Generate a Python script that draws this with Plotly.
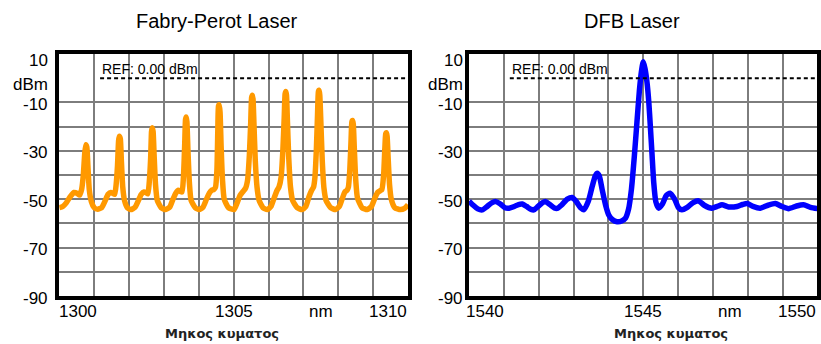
import plotly.graph_objects as go

# ---------------- data ----------------
fp_titles = "Fabry-Perot Laser"
dfb_title = "DFB Laser"
x_label = "Μηκος κυματος"
ref_label = "REF: 0.00 dBm"
y_tick_vals = [10, 0, -10, -30, -50, -70, -90]
y_tick_text = ["10", "dBm", "-10", "-30", "-50", "-70", "-90"]
fp_x_ticks = [1300, 1305, 1310]
dfb_x_ticks = [1540, 1545, 1550]
unit_label = "nm"

fp_nm = [
    1300.00, 1300.10, 1300.20, 1300.32, 1300.42, 1300.52, 1300.58, 1300.64, 1300.69, 1300.73, 1300.76, 1300.79, 1300.82, 1300.86, 1300.92, 1301.00, 1301.10,
    1301.22, 1301.32, 1301.40, 1301.48, 1301.54, 1301.59, 1301.63, 1301.67, 1301.70, 1301.72, 1301.75, 1301.78, 1301.82, 1301.87, 1301.95, 1302.05,
    1302.17, 1302.27, 1302.35, 1302.43, 1302.49, 1302.54, 1302.58, 1302.62, 1302.645, 1302.665, 1302.69, 1302.72, 1302.76, 1302.81, 1302.92, 1303.05,
    1303.17, 1303.26, 1303.34, 1303.41, 1303.47, 1303.52, 1303.56, 1303.595, 1303.62, 1303.64, 1303.66, 1303.69, 1303.73, 1303.78, 1303.90, 1304.01,
    1304.12, 1304.22, 1304.30, 1304.37, 1304.43, 1304.48, 1304.52, 1304.545, 1304.565, 1304.585, 1304.61, 1304.64, 1304.68, 1304.73, 1304.85, 1305.01,
    1305.10, 1305.18, 1305.27, 1305.34, 1305.40, 1305.45, 1305.49, 1305.515, 1305.535, 1305.555, 1305.58, 1305.62, 1305.67, 1305.73, 1305.84, 1305.96,
    1306.07, 1306.16, 1306.24, 1306.30, 1306.36, 1306.41, 1306.45, 1306.475, 1306.495, 1306.515, 1306.54, 1306.58, 1306.63, 1306.69, 1306.82, 1306.96,
    1307.07, 1307.16, 1307.23, 1307.29, 1307.33, 1307.37, 1307.405, 1307.43, 1307.45, 1307.47, 1307.50, 1307.54, 1307.59, 1307.65, 1307.78, 1307.92,
    1308.03, 1308.12, 1308.19, 1308.25, 1308.29, 1308.33, 1308.365, 1308.39, 1308.41, 1308.43, 1308.46, 1308.50, 1308.55, 1308.68, 1308.83,
    1308.95, 1309.05, 1309.13, 1309.20, 1309.25, 1309.30, 1309.335, 1309.36, 1309.38, 1309.40, 1309.43, 1309.47, 1309.52, 1309.62, 1309.78, 1309.90, 1310.00,
]
fp_dbm = [
    -53.5, -53.0, -51.5, -48.8, -47.2, -47.6, -48.3, -46.0, -40.0, -31.0, -27.5, -28.5, -36.0, -46.0, -51.0, -53.5, -54.2,
    -53.4, -50.5, -48.0, -47.2, -47.6, -48.0, -44.0, -36.0, -26.0, -24.0, -25.0, -34.0, -45.0, -50.5, -53.5, -54.3,
    -53.4, -50.5, -48.0, -47.0, -47.3, -47.8, -43.0, -33.0, -22.0, -20.5, -22.0, -32.0, -44.0, -50.5, -53.5, -54.3,
    -53.2, -50.0, -47.5, -46.3, -46.8, -47.0, -41.0, -28.0, -17.0, -16.0, -18.0, -30.0, -43.0, -50.5, -53.5, -54.3,
    -53.3, -50.0, -47.5, -46.3, -46.0, -45.0, -38.0, -22.0, -11.5, -11.0, -14.0, -28.0, -42.0, -50.0, -53.5, -54.3,
    -51.5, -48.5, -46.8, -45.5, -42.0, -32.0, -18.0, -8.0, -7.0, -8.5, -18.0, -34.0, -45.0, -50.5, -53.5, -54.3,
    -53.0, -49.5, -46.5, -45.0, -41.0, -30.0, -16.0, -6.5, -5.5, -7.0, -17.0, -33.0, -45.0, -50.5, -53.5, -54.3,
    -53.0, -49.0, -46.5, -45.0, -41.0, -30.0, -15.0, -5.5, -5.0, -7.0, -18.0, -34.0, -45.5, -50.5, -53.5, -54.3,
    -53.0, -49.5, -47.0, -46.3, -45.0, -38.0, -26.0, -18.0, -17.5, -19.0, -29.0, -42.0, -49.5, -53.5, -54.3,
    -53.0, -49.5, -47.2, -46.5, -46.0, -40.0, -29.0, -23.0, -22.5, -24.0, -33.0, -44.0, -50.0, -53.5, -54.3, -53.8, -52.3,
]

dfb_nm = [
    1540.00, 1540.12, 1540.25, 1540.38, 1540.52, 1540.65, 1540.77, 1540.90, 1541.03, 1541.15,
    1541.30, 1541.42, 1541.53, 1541.65, 1541.78, 1541.86, 1541.98, 1542.10, 1542.20, 1542.32,
    1542.45, 1542.53, 1542.65, 1542.82, 1542.96, 1543.08, 1543.20, 1543.30, 1543.42, 1543.53,
    1543.62, 1543.68, 1543.74, 1543.82, 1543.92, 1544.01, 1544.12, 1544.25, 1544.38, 1544.49,
    1544.58, 1544.66, 1544.74, 1544.82, 1544.89, 1544.95, 1545.00, 1545.05, 1545.11, 1545.16,
    1545.20, 1545.25, 1545.30, 1545.36, 1545.44, 1545.55, 1545.66, 1545.77, 1545.90, 1546.01,
    1546.11, 1546.25, 1546.42, 1546.59, 1546.75, 1546.97, 1547.12, 1547.26, 1547.45, 1547.69,
    1547.85, 1547.98, 1548.15, 1548.36, 1548.58, 1548.79, 1548.98, 1549.17, 1549.40, 1549.60,
    1549.80, 1550.00,
]
dfb_dbm = [
    -50.8, -52.5, -54.0, -54.4, -53.0, -51.5, -51.0, -52.0, -53.5, -53.7,
    -53.0, -52.2, -52.0, -53.0, -54.2, -54.4, -53.0, -51.5, -51.0, -52.2,
    -53.6, -53.8, -52.5, -50.0, -49.3, -51.0, -53.5, -54.3, -51.0, -45.0,
    -40.5, -39.3, -40.5, -46.0, -52.5, -56.5, -58.5, -59.3, -59.0, -57.8,
    -54.0, -46.0, -33.0, -18.0, -5.0, 3.0, 6.8, 4.0, -2.0, -10.0,
    -19.0, -31.0, -43.0, -51.0, -53.7, -52.0, -48.5, -47.5, -50.0, -53.5,
    -54.4, -53.5, -51.5, -50.7, -52.5, -53.7, -53.0, -52.3, -53.2, -53.0,
    -52.2, -51.8, -53.0, -53.7, -52.5, -51.8, -53.0, -53.9, -52.8, -52.3,
    -53.4, -53.9,
]

fp_color = "#FF9900"
dfb_color = "#0000FF"
grid_color = "#7d7d7d"
text_font = "Liberation Sans, Arial, sans-serif"

# ---------------- figure ----------------
fig = go.Figure()
fig.add_trace(go.Scatter(x=fp_nm, y=fp_dbm, mode="lines", xaxis="x", yaxis="y",
                         line=dict(color=fp_color, width=5.5, shape="spline", smoothing=0.5),
                         showlegend=False, hoverinfo="skip"))
fig.add_trace(go.Scatter(x=dfb_nm, y=dfb_dbm, mode="lines", xaxis="x2", yaxis="y2",
                         line=dict(color=dfb_color, width=5.5, shape="spline", smoothing=0.6),
                         showlegend=False, hoverinfo="skip"))

grid_y = [-80, -70, -60, -50, -40, -30, -20, -10]

def xaxis_cfg(domain, x0, anchor):
    return dict(domain=domain, range=[x0, x0 + 10], anchor=anchor,
                tickmode="linear", tick0=x0, dtick=1, showticklabels=False, ticks="",
                showgrid=True, gridcolor=grid_color, gridwidth=1.5, zeroline=False,
                showline=True, linecolor="black", linewidth=3.5, mirror=True, fixedrange=True)

def yaxis_cfg(anchor):
    return dict(domain=[0, 1], range=[-90, 10], anchor=anchor,
                tickmode="array", tickvals=grid_y, showticklabels=False, ticks="",
                showgrid=True, gridcolor=grid_color, gridwidth=1.5, zeroline=False,
                showline=True, linecolor="black", linewidth=3.5, mirror=True, fixedrange=True)

fig.update_layout(
    width=821, height=344, autosize=False,
    margin=dict(l=0, r=0, t=54, b=48),
    paper_bgcolor="white", plot_bgcolor="white",
    xaxis=xaxis_cfg([0.0722, 0.4970], 1300, "y"),
    yaxis=yaxis_cfg("x"),
    xaxis2=xaxis_cfg([0.5713, 0.9957], 1540, "y2"),
    yaxis2=yaxis_cfg("x2"),
)

shapes = []
annotations = []
panels = [
    ("x", "y", 1300, fp_x_ticks, fp_titles, -9, -2.5, 4.52, 4.67),
    ("x2", "y2", 1540, dfb_x_ticks, dfb_title, -4, -5.5, 4.68, 5.8),
]
for xa, ya, x0, xticks, title, ylab_shift, first_shift, title_off, label_off in panels:
    # white patch top-left (as in the original screenshot)
    shapes.append(dict(type="rect", xref=xa, yref=ya, x0=x0 + 0.07, x1=x0 + 1.17, y0=-3.6, y1=9.3,
                       fillcolor="white", line=dict(width=0), layer="below"))
    # REF dashed line at 0 dBm
    shapes.append(dict(type="line", xref=xa, yref=ya, x0=x0 + 1.17, x1=x0 + 9.95, y0=0, y1=0,
                       line=dict(color="black", width=2, dash="4px,3px"), layer="above"))
    annotations.append(dict(xref=xa, yref=ya, x=x0 + 1.17, y=0, text=ref_label, showarrow=False,
                            xanchor="left", yanchor="bottom", yshift=-1,
                            font=dict(family=text_font, size=14, color="black")))
    # y tick labels
    for v, t in zip(y_tick_vals, y_tick_text):
        ys = -6 if v >= 0 else -2
        annotations.append(dict(xref=xa + " domain", yref=ya, x=0, y=v, text=t, showarrow=False,
                                xanchor="right", yanchor="middle", xshift=ylab_shift, yshift=ys,
                                font=dict(family=text_font, size=17, color="black")))
    # x tick labels
    anchors = ["left", "center", "right"]
    shifts = [first_shift, 0, 1]
    for v, a, s in zip(xticks, anchors, shifts):
        annotations.append(dict(xref=xa, yref=ya + " domain", x=v, y=0, text=str(v), showarrow=False,
                                xanchor=a, yanchor="middle", xshift=s, yshift=-15,
                                font=dict(family=text_font, size=17, color="black")))
    annotations.append(dict(xref=xa, yref=ya + " domain", x=x0 + 7.5, y=0, text=unit_label,
                            showarrow=False, xanchor="center", yanchor="middle", yshift=-15,
                            font=dict(family=text_font, size=17, color="black")))
    # axis title
    annotations.append(dict(xref=xa, yref=ya + " domain", x=x0 + label_off, y=0, text="<b>" + x_label + "</b>",
                            showarrow=False, xanchor="center", yanchor="middle", yshift=-37,
                            font=dict(family="DejaVu Sans, sans-serif", size=13, color="#222222")))
    # panel title
    annotations.append(dict(xref=xa, yref=ya + " domain", x=x0 + title_off, y=1, text=title,
                            showarrow=False, xanchor="center", yanchor="middle", yshift=33,
                            font=dict(family=text_font, size=20, color="black")))

fig.update_layout(shapes=shapes, annotations=annotations)
fig.write_html("out.html", config={"displayModeBar": False},
               post_script="document.body.style.margin='0';document.body.style.overflow='hidden';")
